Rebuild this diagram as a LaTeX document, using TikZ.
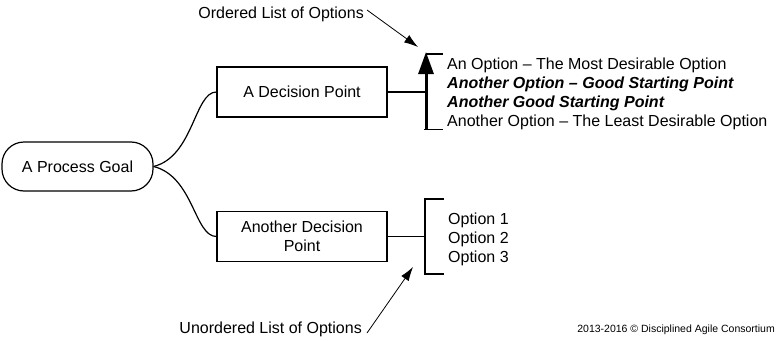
\documentclass[tikz,border=0pt]{standalone}
\usepackage{fontspec}
\setmainfont{Liberation Sans}
\usetikzlibrary{arrows.meta,positioning}

\begin{document}
\begin{tikzpicture}[x=1pt,y=-1pt,line join=miter,
 every node/.style={font=\fontsize{16}{19}\selectfont,inner sep=2pt},
 decisionbox/.style={draw,line width=1.2pt,minimum width=170pt,minimum height=50pt,align=center},
 lead/.style={line width=1.2pt},
 callout/.style={-{Latex[length=14pt,width=9pt]},line width=0.8pt}]
 \useasboundingbox (0,0) rectangle (778,340);
 % goal and decision points
 \node[draw,line width=1.2pt,rounded corners=22pt,minimum width=151pt,minimum height=49pt]
  (goal) at (77.5,166.5) {A Process Goal};
 \node[decisionbox] (dp1) at (302,92) {A Decision Point};
 \node[decisionbox] (dp2) at (302,236.5) {Another Decision\\Point};
 \draw[lead] (goal.east) .. controls +(40,-10) and +(-22,0) .. (dp1.west);
 \draw[lead] (goal.east) .. controls +(40,10) and +(-22,0) .. (dp2.west);
 % ordered list
 \coordinate (ob) at (426,92);
 \draw[lead] (dp1.east) -- (ob);
 \draw[lead] (443,54) -- (426,54) (424,129.5) -- (443,129.5);
 \draw[line width=3pt,-{Triangle[length=22pt,width=15pt]}] (426,129.5) -- (426,52);
 \node[anchor=west,align=left] (olist) at (445,94) {An Option – The Most Desirable Option\\
  \textbf{\textit{Another Option – Good Starting Point}}\\
  \textbf{\textit{Another Good Starting Point}}\\
  Another Option – The Least Desirable Option};
 % unordered list
 \coordinate (ub) at (425,236.5);
 \draw[lead] (dp2.east) -- (ub);
 \draw[lead] (444,199) -| (425,274) -- (444,274);
 \node[anchor=west,align=left] (ulist) at (446,239) {Option 1\\Option 2\\Option 3};
 % callouts
 \node[anchor=east] (olabel) at (366,14) {Ordered List of Options};
 \coordinate (otip) at (418,47);
 \draw[callout] ([xshift=1pt,yshift=4pt]olabel.east) -- (otip);
 \node[anchor=east] (ulabel) at (364,329) {Unordered List of Options};
 \coordinate (utip) at (413,267);
 \draw[callout] ([xshift=3pt,yshift=-4pt]ulabel.east) -- (utip);
 \node[anchor=east,font=\fontsize{10.5}{12}\selectfont] (credit) at (777,330)
  {2013-2016 © Disciplined Agile Consortium};
\end{tikzpicture}
\end{document}
